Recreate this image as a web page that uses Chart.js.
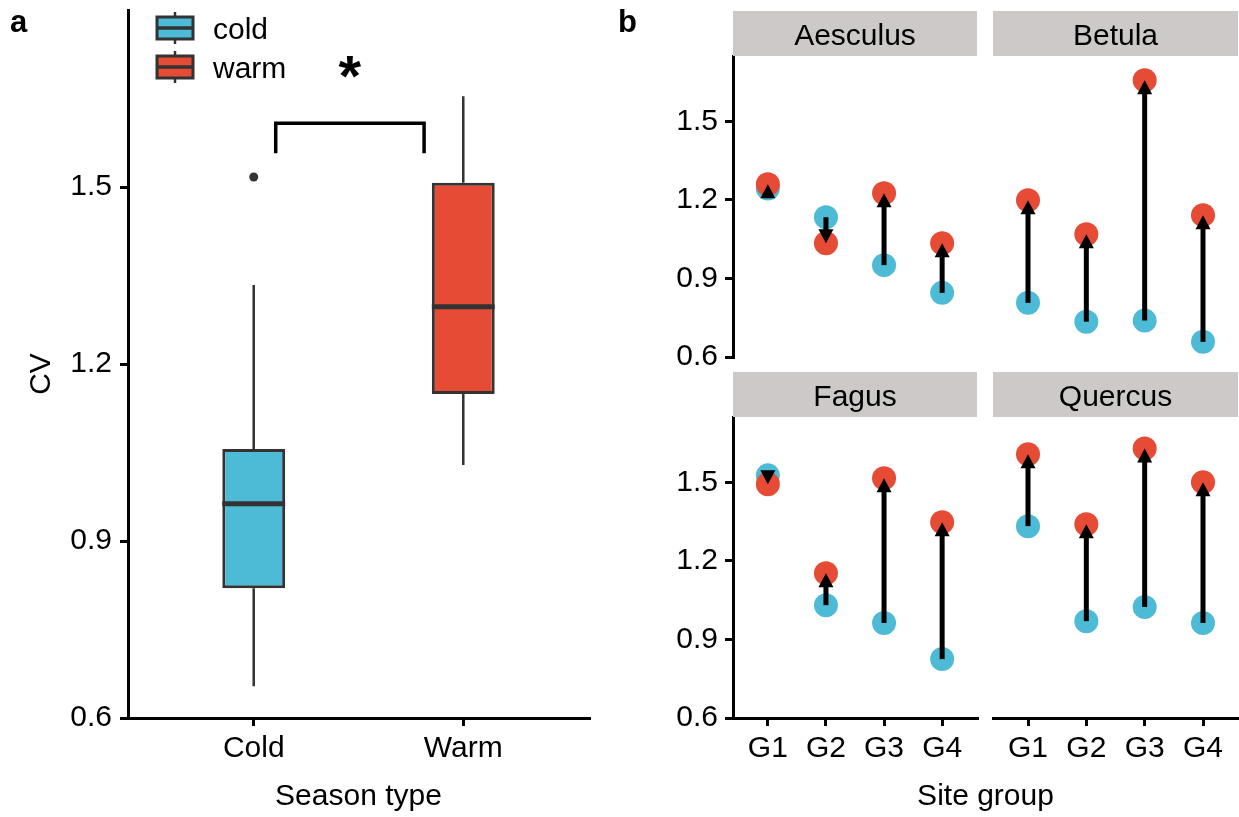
<!DOCTYPE html>
<html>
<head>
<meta charset="utf-8">
<script src="https://cdn.jsdelivr.net/npm/chart.js@4.4.0/dist/chart.umd.min.js"></script>
<style>
  html, body { margin: 0; padding: 0; background: #ffffff; }
  #wrap { position: relative; width: 1239px; height: 817px; overflow: hidden; background: #fff; }
  #wrap canvas { position: absolute; left: 0; top: 0; pointer-events: none; }
</style>
</head>
<body>
<div id="wrap">
  <canvas id="panelA" width="1239" height="817"></canvas>
  <canvas id="facet0" width="1239" height="817"></canvas>
  <canvas id="facet1" width="1239" height="817"></canvas>
  <canvas id="facet2" width="1239" height="817"></canvas>
  <canvas id="facet3" width="1239" height="817"></canvas>
</div>
<script>
// ---------------- DATA ----------------
// Panel a: boxplot of CV by season type
const seasons = ['Cold', 'Warm'];
const legendLabels = ['cold', 'warm'];
const whiskerLow  = [0.654, 1.029];
const boxQ1       = [0.820, 1.149];
const boxMedian   = [0.963, 1.297];
const boxQ3       = [1.056, 1.507];
const whiskerHigh = [1.334, 1.654];
const outlierSeason = [0];
const outlierValue  = [1.517];
const cvTicks      = [0.6, 0.9, 1.2, 1.5];
const cvTickLabels = ['0.6', '0.9', '1.2', '1.5'];
const sigLabel = '*';

// Panel b: CV per site group, cold vs warm, by genus
const species    = ['Aesculus', 'Betula', 'Fagus', 'Quercus'];
const siteGroups = ['G1', 'G2', 'G3', 'G4'];
const coldAesculus = [1.244, 1.134, 0.951, 0.845];
const warmAesculus = [1.260, 1.035, 1.226, 1.035];
const coldBetula   = [0.807, 0.735, 0.739, 0.658];
const warmBetula   = [1.199, 1.069, 1.657, 1.142];
const coldFagus    = [1.527, 1.031, 0.963, 0.825];
const warmFagus    = [1.493, 1.153, 1.516, 1.348];
const coldQuercus  = [1.333, 0.970, 1.024, 0.963];
const warmQuercus  = [1.608, 1.340, 1.630, 1.501];

// ---------------- STYLE / LAYOUT ----------------
const FONT = '"Liberation Sans", Arial, Helvetica, sans-serif';
const FS = 30;
const COLD = '#4DBBD5';
const WARM = '#E64B35';
const OUTLINE = '#333333';
const STRIP = '#CDC9C9';
const BOX_HALF = 0.15;           // half box width in category units
const sigSpec = { from: 0.105, to: 0.813, bar: 1.608, tip: 1.557, labelY: 1.705 };

Chart.defaults.font.family = FONT;
Chart.defaults.font.size = FS;
Chart.defaults.color = '#000';
Chart.defaults.animation = false;

function fixedTicks(values) {
  return function (scale) { scale.ticks = values.map(v => ({ value: v })); };
}

function axisCommon() {
  return {
    grid: { drawOnChartArea: false, drawTicks: true, color: '#000', lineWidth: 3, tickLength: 8, offset: false },
    border: { display: true, color: '#000', width: 3 }
  };
}

// ---------------- PANEL A ----------------
const idx = seasons.map((_, i) => i);
const boxColors = [COLD, WARM];

const panelAExtras = {
  id: 'panelAExtras',
  afterDraw(chart) {
    const { ctx, scales: { x, y }, chartArea } = chart;
    ctx.save();
    // significance label
    ctx.fillStyle = '#000';
    ctx.font = `bold 58px ${FONT}`;
    ctx.textAlign = 'center';
    ctx.textBaseline = 'alphabetic';
    ctx.fillText(sigLabel, x.getPixelForValue((sigSpec.from + sigSpec.to) / 2), y.getPixelForValue(sigSpec.labelY) + 30);

    // legend (boxplot keys)
    legendLabels.forEach((lab, i) => {
      const cx = 175, cy = 28 + i * 39;
      ctx.strokeStyle = OUTLINE;
      ctx.lineWidth = 2.5;
      ctx.beginPath(); ctx.moveTo(cx, cy - 16); ctx.lineTo(cx, cy + 16); ctx.stroke();
      ctx.fillStyle = boxColors[i];
      ctx.fillRect(cx - 18, cy - 11, 36, 22);
      ctx.lineWidth = 3;
      ctx.strokeRect(cx - 18, cy - 11, 36, 22);
      ctx.lineWidth = 3.5;
      ctx.beginPath(); ctx.moveTo(cx - 18, cy); ctx.lineTo(cx + 18, cy); ctx.stroke();
      ctx.fillStyle = '#000';
      ctx.font = `${FS}px ${FONT}`;
      ctx.textAlign = 'left';
      ctx.textBaseline = 'alphabetic';
      ctx.fillText(lab, 213, cy + 11);
    });

    // panel tag
    ctx.font = `bold 31px ${FONT}`;
    ctx.textAlign = 'left';
    ctx.fillText('a', 10, 32);

    // axis titles
    ctx.font = `${FS}px ${FONT}`;
    ctx.textAlign = 'center';
    ctx.fillText('Season type', (chartArea.left + chartArea.right) / 2, 805);
    ctx.save();
    ctx.translate(50, (chartArea.top + chartArea.bottom) / 2 + 10);
    ctx.rotate(-Math.PI / 2);
    ctx.fillText('CV', 0, 0);
    ctx.restore();
    ctx.restore();
  }
};

new Chart(document.getElementById('panelA'), {
  type: 'bar',
  data: {
    datasets: [
      { // medians
        type: 'line', label: 'median',
        data: idx.flatMap(i => [{ x: i - BOX_HALF, y: boxMedian[i] }, { x: i + BOX_HALF, y: boxMedian[i] }, { x: i, y: null }]),
        borderColor: OUTLINE, borderWidth: 5, pointRadius: 0, spanGaps: false, borderCapStyle: 'butt', order: 0
      },
      { // outliers
        type: 'scatter', label: 'outlier',
        data: outlierSeason.map((s, k) => ({ x: s, y: outlierValue[k] })),
        pointRadius: 4.5, backgroundColor: OUTLINE, borderWidth: 0, order: 1
      },
      { // boxes
        type: 'bar', label: 'box',
        data: idx.map(i => ({ x: i, y: [boxQ1[i], boxQ3[i]] })),
        backgroundColor: boxColors, borderColor: OUTLINE, borderWidth: 3, borderSkipped: false,
        categoryPercentage: 1, barPercentage: 0.3, order: 2
      },
      { // whiskers
        type: 'line', label: 'whisker',
        data: idx.flatMap(i => [
          { x: i, y: whiskerLow[i] }, { x: i, y: boxQ1[i] }, { x: i, y: null },
          { x: i, y: boxQ3[i] }, { x: i, y: whiskerHigh[i] }, { x: i, y: null }
        ]),
        borderColor: OUTLINE, borderWidth: 2.5, pointRadius: 0, spanGaps: false, order: 3
      },
      { // significance bracket
        type: 'line', label: 'bracket',
        data: [
          { x: sigSpec.from, y: sigSpec.tip }, { x: sigSpec.from, y: sigSpec.bar },
          { x: sigSpec.to, y: sigSpec.bar }, { x: sigSpec.to, y: sigSpec.tip }
        ],
        borderColor: '#000', borderWidth: 3.5, pointRadius: 0, borderJoinStyle: 'miter', order: 4
      }
    ]
  },
  options: {
    responsive: false, devicePixelRatio: 1, animation: false, events: [],
    layout: { autoPadding: false, padding: { left: 0, top: 10, right: 1239 - 589, bottom: 817 - 718 - 60 } },
    plugins: { legend: { display: false }, tooltip: { enabled: false } },
    scales: {
      x: Object.assign(axisCommon(), {
        type: 'linear', min: -0.6, max: seasons.length - 1 + 0.6, offset: false,
        afterBuildTicks: fixedTicks(idx),
        ticks: { callback: v => seasons[v], color: '#000', padding: 5, maxRotation: 0, autoSkip: false, font: { size: FS } },
        afterFit: s => { s.height = 60; s.paddingLeft = 0; s.paddingRight = 0; }
      }),
      y: Object.assign(axisCommon(), {
        type: 'linear', min: 0.6, max: 1.8, beginAtZero: false,
        afterBuildTicks: fixedTicks(cvTicks),
        ticks: { callback: v => cvTickLabels[cvTicks.indexOf(v)], color: '#000', padding: 8, font: { size: FS } },
        afterFit: s => { s.width = 128; s.paddingTop = 0; s.paddingBottom = 0; }
      })
    }
  },
  plugins: [panelAExtras]
});

// ---------------- PANEL B (facets) ----------------
function facetPlugin(name, cold, warm, extra) {
  return {
    id: 'facet_' + name,
    afterDatasetsDraw(chart) {
      const { ctx, scales: { x, y } } = chart;
      ctx.save();
      ctx.fillStyle = '#000';
      ctx.strokeStyle = '#000';
      const headLen = 14, headHalf = 7.5;
      cold.forEach((c, i) => {
        const px = x.getPixelForValue(i);
        const y0 = y.getPixelForValue(c);
        const y1 = y.getPixelForValue(warm[i]);
        const dir = y1 < y0 ? -1 : 1;          // -1: arrow points up
        const yBase = y1 - dir * headLen;
        if ((yBase - y0) * dir > 0) {
          ctx.lineWidth = 5;
          ctx.lineCap = 'butt';
          ctx.beginPath(); ctx.moveTo(px, y0); ctx.lineTo(px, yBase + dir * 2); ctx.stroke();
        }
        ctx.beginPath();
        ctx.moveTo(px, y1);
        ctx.lineTo(px - headHalf, yBase);
        ctx.lineTo(px + headHalf, yBase);
        ctx.closePath();
        ctx.fill();
      });
      ctx.restore();
    },
    afterDraw(chart) {
      const { ctx, chartArea: a } = chart;
      ctx.save();
      ctx.fillStyle = STRIP;
      ctx.fillRect(a.left, a.top - 45, a.right - a.left, 45);
      ctx.fillStyle = '#000';
      ctx.font = `${FS}px ${FONT}`;
      ctx.textAlign = 'center';
      ctx.textBaseline = 'alphabetic';
      ctx.fillText(name, (a.left + a.right) / 2, a.top - 11);
      if (extra) extra(ctx, a);
      ctx.restore();
    }
  };
}

function facet(canvasId, name, cold, warm, area, showX, showY, extra) {
  const groupIdx = siteGroups.map((_, i) => i);
  const Y_W = 60, X_H = 60;
  return new Chart(document.getElementById(canvasId), {
    type: 'scatter',
    data: {
      datasets: [
        { label: 'warm', data: groupIdx.map(i => ({ x: i, y: warm[i] })), backgroundColor: WARM, pointRadius: 12, borderWidth: 0, order: 0 },
        { label: 'cold', data: groupIdx.map(i => ({ x: i, y: cold[i] })), backgroundColor: COLD, pointRadius: 12, borderWidth: 0, order: 1 }
      ]
    },
    options: {
      responsive: false, devicePixelRatio: 1, animation: false, events: [],
      layout: {
        autoPadding: false,
        padding: {
          left: area.l - (showY ? Y_W : 0),
          top: area.t,
          right: 1239 - area.r,
          bottom: 817 - area.b - (showX ? X_H : 0)
        }
      },
      plugins: { legend: { display: false }, tooltip: { enabled: false } },
      scales: {
        x: Object.assign(axisCommon(), {
          type: 'linear', display: showX, min: -0.6, max: siteGroups.length - 1 + 0.6, offset: false,
          afterBuildTicks: fixedTicks(groupIdx),
          ticks: { callback: v => siteGroups[v], color: '#000', padding: 5, maxRotation: 0, autoSkip: false, font: { size: FS } },
          afterFit: s => { s.height = showX ? X_H : 0; s.paddingLeft = 0; s.paddingRight = 0; }
        }),
        y: Object.assign(axisCommon(), {
          type: 'linear', display: showY, min: 0.6, max: 1.75, beginAtZero: false,
          afterBuildTicks: fixedTicks(cvTicks),
          ticks: { callback: v => cvTickLabels[cvTicks.indexOf(v)], color: '#000', padding: 7, font: { size: FS } },
          afterFit: s => { s.width = showY ? Y_W : 0; s.paddingTop = 0; s.paddingBottom = 0; }
        })
      }
    },
    plugins: [facetPlugin(name, cold, warm, extra)]
  });
}

const topRow = { t: 56, b: 357 }, botRow = { t: 417, b: 718 };
const leftCol = { l: 733, r: 977 }, rightCol = { l: 993, r: 1238 };

facet('facet0', species[0], coldAesculus, warmAesculus, { ...leftCol, ...topRow }, false, true,
  (ctx) => { ctx.font = `bold 31px ${FONT}`; ctx.textAlign = 'left'; ctx.fillText('b', 618, 32); });
facet('facet1', species[1], coldBetula, warmBetula, { ...rightCol, ...topRow }, false, false);
facet('facet2', species[2], coldFagus, warmFagus, { ...leftCol, ...botRow }, true, true,
  (ctx) => { ctx.font = `${FS}px ${FONT}`; ctx.textAlign = 'center'; ctx.fillText('Site group', (leftCol.l + rightCol.r) / 2, 805); });
facet('facet3', species[3], coldQuercus, warmQuercus, { ...rightCol, ...botRow }, true, false);
</script>
</body>
</html>
